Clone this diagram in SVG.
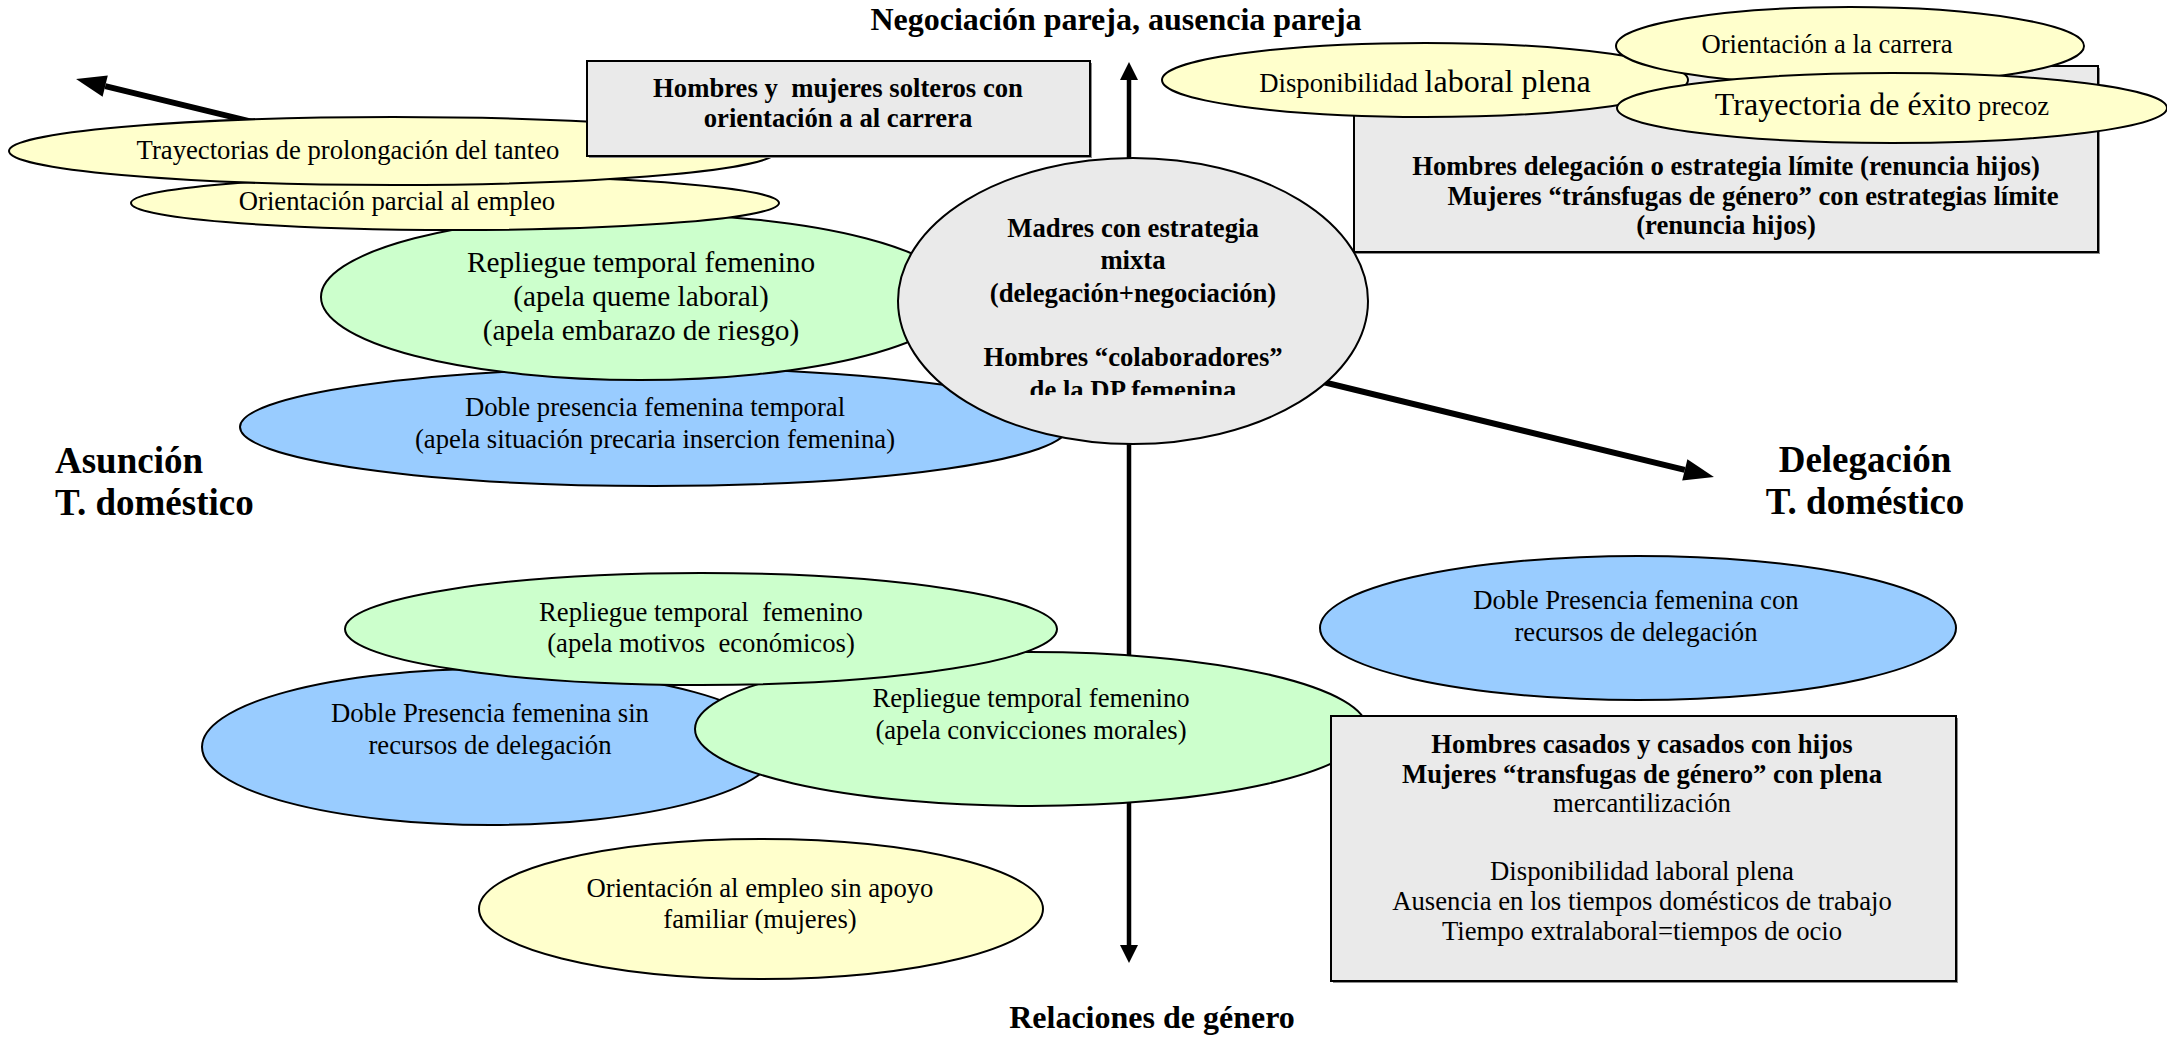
<svg xmlns="http://www.w3.org/2000/svg" width="2167" height="1037" viewBox="0 0 2167 1037">
  <style>
    text { font-family: 'Liberation Serif', 'Times New Roman', serif; font-size: 26.7px; fill: #000; text-anchor: middle; white-space: pre; }
    .b { font-weight: bold; }
    .big { font-size: 32px; }
    .axisTitle { font-weight: bold; font-size: 32px; }
    .sideTitle { font-weight: bold; font-size: 37px; }
    .yel { fill: #FFFFCC; stroke: #000; stroke-width: 2; }
    .grn { fill: #CCFFCC; stroke: #000; stroke-width: 2; }
    .blu { fill: #99CCFF; stroke: #000; stroke-width: 2; }
    .gry { fill: #EAEAEA; stroke: #000; stroke-width: 2; }
    .box { fill: #EAEAEA; stroke: #000; stroke-width: 2; }
    .shadow { fill: #8c8c8c; }
    .axis { stroke: #000; fill: none; }
  </style>
  <defs>
    <marker id="headWide" markerUnits="userSpaceOnUse" markerWidth="30" markerHeight="22" refX="0" refY="11" orient="auto-start-reverse" overflow="visible">
      <path d="M0,0 L30,11 L0,22 Z" fill="#000"/>
    </marker>
    <marker id="headNarrow" markerUnits="userSpaceOnUse" markerWidth="18" markerHeight="18" refX="0" refY="9" orient="auto-start-reverse" overflow="visible">
      <path d="M0,0 L18,9 L0,18 Z" fill="#000"/>
    </marker>
    <clipPath id="mixtaClip">
      <rect x="898" y="150" width="470" height="245"/>
    </clipPath>
  </defs>

  <rect width="2167" height="1037" fill="#fff"/>

  <!-- axes -->
  <g id="connectors">
    <line id="axis-vertical" class="axis" x1="1129" y1="80" x2="1129" y2="945" stroke-width="4.5" marker-start="url(#headNarrow)" marker-end="url(#headNarrow)"/>
    <line id="axis-diagonal" class="axis" x1="105.2" y1="86.1" x2="1684.8" y2="469.9" stroke-width="6" marker-start="url(#headWide)" marker-end="url(#headWide)"/>
  </g>

  <!-- axis titles -->
  <g id="axis-labels">
    <text class="axisTitle" x="1116" y="30">Negociación pareja, ausencia pareja</text>
    <text class="axisTitle" x="1152" y="1028">Relaciones de género</text>
    <text class="sideTitle" x="55" y="473" style="text-anchor:start">Asunción</text>
    <text class="sideTitle" x="55" y="515" style="text-anchor:start">T. doméstico</text>
    <text class="sideTitle" x="1865" y="472">Delegación</text>
    <text class="sideTitle" x="1865" y="514">T. doméstico</text>
  </g>

  <!-- upper-left quadrant -->
  <g id="doble-presencia-temporal">
    <ellipse class="blu" cx="654" cy="427" rx="414" ry="59"/>
    <text x="655" y="416">Doble presencia femenina temporal</text>
    <text x="655" y="448">(apela situación precaria insercion femenina)</text>
  </g>
  <g id="repliegue-queme">
    <ellipse class="grn" cx="640" cy="297" rx="319" ry="83"/>
    <text x="641" y="272" style="font-size:29.3px">Repliegue temporal femenino</text>
    <text x="641" y="306" style="font-size:29.3px">(apela queme laboral)</text>
    <text x="641" y="340" style="font-size:29.3px">(apela embarazo de riesgo)</text>
  </g>
  <g id="orientacion-parcial">
    <ellipse class="yel" cx="455" cy="203" rx="324" ry="27"/>
    <text x="397" y="210">Orientación parcial al empleo</text>
  </g>
  <g id="prolongacion-tanteo">
    <ellipse class="yel" cx="393" cy="151" rx="384" ry="34"/>
    <text x="348" y="159">Trayectorias de prolongación del tanteo</text>
  </g>
  <g id="solteros-carrera">
    <rect class="shadow" x="589" y="63" width="503" height="95"/>
    <rect class="box" x="587" y="61" width="503" height="95"/>
    <text class="b" x="838" y="97">Hombres y  mujeres solteros con</text>
    <text class="b" x="838" y="127">orientación a al carrera</text>
  </g>

  <!-- centre -->
  <g id="madres-estrategia-mixta">
    <ellipse class="gry" cx="1133" cy="301" rx="235" ry="143"/>
    <g clip-path="url(#mixtaClip)">
      <text class="b" x="1133" y="237">Madres con estrategia</text>
      <text class="b" x="1133" y="269">mixta</text>
      <text class="b" x="1133" y="302">(delegación+negociación)</text>
      <text class="b" x="1133" y="366">Hombres “colaboradores”</text>
      <text class="b" x="1133" y="399">de la DP femenina</text>
    </g>
  </g>

  <!-- upper-right quadrant -->
  <g id="estrategia-limite">
    <rect class="shadow" x="1356" y="68" width="744" height="186"/>
    <rect class="box" x="1354" y="66" width="744" height="186"/>
    <text class="b" x="1726" y="175">Hombres delegación o estrategia límite (renuncia hijos)</text>
    <text class="b" x="1753" y="204.5">Mujeres “tránsfugas de género” con estrategias límite</text>
    <text class="b" x="1726" y="234">(renuncia hijos)</text>
  </g>
  <g id="disponibilidad-plena">
    <ellipse class="yel" cx="1425" cy="80" rx="263" ry="37"/>
    <text x="1425" y="92">Disponibilidad <tspan class="big">laboral plena</tspan></text>
  </g>
  <g id="orientacion-carrera">
    <ellipse class="yel" cx="1850" cy="46" rx="234" ry="39"/>
    <text x="1827" y="53">Orientación a la carrera</text>
  </g>
  <g id="exito-precoz">
    <ellipse class="yel" cx="1892" cy="108" rx="275" ry="35"/>
    <text x="1882" y="115"><tspan class="big">Trayectoria de éxito</tspan> precoz</text>
  </g>

  <!-- lower-right quadrant -->
  <g id="doble-presencia-con-recursos">
    <ellipse class="blu" cx="1638" cy="628" rx="318" ry="72"/>
    <text x="1636" y="609">Doble Presencia femenina con</text>
    <text x="1636" y="641">recursos de delegación</text>
  </g>

  <!-- lower-left quadrant -->
  <g id="doble-presencia-sin-recursos">
    <ellipse class="blu" cx="490" cy="747" rx="288" ry="78"/>
    <text x="490" y="722">Doble Presencia femenina sin</text>
    <text x="490" y="754">recursos de delegación</text>
  </g>
  <g id="repliegue-convicciones">
    <ellipse class="grn" cx="1031" cy="729" rx="336" ry="77"/>
    <text x="1031" y="707">Repliegue temporal femenino</text>
    <text x="1031" y="739">(apela convicciones morales)</text>
  </g>
  <g id="repliegue-economicos">
    <ellipse class="grn" cx="701" cy="629" rx="356" ry="56"/>
    <text x="701" y="621">Repliegue temporal  femenino</text>
    <text x="701" y="652">(apela motivos  económicos)</text>
  </g>
  <g id="empleo-sin-apoyo">
    <ellipse class="yel" cx="761" cy="909" rx="282" ry="70"/>
    <text x="760" y="897">Orientación al empleo sin apoyo</text>
    <text x="760" y="928">familiar (mujeres)</text>
  </g>

  <!-- lower-right box -->
  <g id="casados-plena-mercantilizacion">
    <rect class="shadow" x="1333" y="718" width="625" height="265"/>
    <rect class="box" x="1331" y="716" width="625" height="265"/>
    <text class="b" x="1642" y="753">Hombres casados y casados con hijos</text>
    <text class="b" x="1642" y="783">Mujeres “transfugas de género” con plena</text>
    <text x="1642" y="812">mercantilización</text>
    <text x="1642" y="880">Disponibilidad laboral plena</text>
    <text x="1642" y="910">Ausencia en los tiempos domésticos de trabajo</text>
    <text x="1642" y="940">Tiempo extralaboral=tiempos de ocio</text>
  </g>
</svg>
